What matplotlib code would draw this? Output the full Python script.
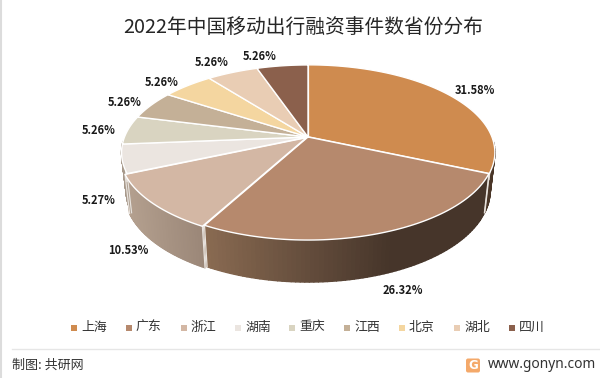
import numpy as np
import matplotlib
matplotlib.use('Agg')
import matplotlib.pyplot as plt
from matplotlib.collections import PolyCollection
from matplotlib.colors import to_rgb
from matplotlib.patches import FancyBboxPatch

plt.rcParams['font.family'] = ['Noto Sans CJK SC', 'DejaVu Sans']

title = '2022年中国移动出行融资事件数省份分布'
provinces = ['上海', '广东', '浙江', '湖南', '重庆', '江西', '北京', '湖北', '四川']
shares = [31.58, 26.32, 10.53, 5.27, 5.26, 5.26, 5.26, 5.26, 5.26]
colors = ['#CF8B4F', '#B6896D', '#D3B7A4', '#EBE5E0', '#D9D4C1', '#C4B097', '#F4D6A0', '#E9CDB4', '#8B604C']

# side colours, left end and right end of each slice
rim_left = ['#4A3628', '#8A6B52', '#B4A08F', '#A89A8C', '#A09A88', '#8A7C68', '#AA9670', '#A0907C', '#604232']
rim_right = ['#4A3628', '#46352A', '#9B8778', '#A89A8C', '#A09A88', '#8A7C68', '#AA9670', '#A0907C', '#604232']
rim_flat = [1, 0.66, 1, 1, 1, 1, 1, 1, 1]

label_x = [475, 403, 128, 99, 99, 125, 162, 212, 260]
label_y = [91, 290, 250, 200, 131, 103, 82, 63, 57]
legend_x = [72, 126.5, 181.5, 236, 290, 345, 400, 455, 509.5]

# pie geometry in pixels, far side of the disc is squeezed
cx, cy = 308, 137
a, b, k = 183.5, 84.8, 0.177


def top_xy(th, dx=0.0, dy=0.0):
    px = np.sin(th) + dx
    py = np.cos(th) + dy
    w = 1 + k * py
    return cx + a * px / w, cy - b * py / w


def apex_xy(dx, dy):
    w = 1 + k * dy
    return cx + a * dx / w, cy - b * dy / w


def low_xy(th, dx=0.0, dy=0.0):
    x, y = top_xy(th, dx, dy)
    depth = 37 - 7.6 * (np.cos(th) + dy)
    return cx + (x - cx) * 0.975, cy + (y - cy) * 0.975 + depth


fig = plt.figure(figsize=(6, 3.78), dpi=100)
ax = fig.add_axes([0, 0, 1, 1])
ax.set_xlim(0, 600)
ax.set_ylim(378, 0)
ax.axis('off')

edges = np.cumsum([0] + shares) / sum(shares) * 2 * np.pi
shifts = [0.003, 0.0, 0.012, 0, 0, 0, 0, 0, 0]

# sides first, the top faces cover whatever is hidden
for i in range(len(shares)):
    mid = (edges[i] + edges[i + 1]) / 2
    dx, dy = shifts[i] * np.sin(mid), shifts[i] * np.cos(mid)
    th = np.linspace(edges[i], edges[i + 1], 80)
    th = th[np.cos(th) < -0.05]  # back of the pie is never seen
    if len(th) < 2:
        continue
    x1, y1 = top_xy(th, dx, dy)
    x2, y2 = low_xy(th, dx, dy)
    span = max(x1.max() - x1.min(), 1)
    polys, cols = [], []
    c_l, c_r = np.array(to_rgb(rim_left[i])), np.array(to_rgb(rim_right[i]))
    for j in range(len(th) - 1):
        polys.append([(x1[j], y1[j]), (x1[j + 1], y1[j + 1]), (x2[j + 1], y2[j + 1]), (x2[j], y2[j])])
        t = min(((x1[j] - x1.min()) / span) / rim_flat[i], 1)
        cols.append(c_l + (c_r - c_l) * t)
    ax.add_collection(PolyCollection(polys, facecolors=cols, edgecolors=cols, linewidths=1.0, zorder=2 + i * 0.01))
    ax.plot([x1[0], x2[0]], [y1[0], y2[0]], color='#E8E2DC', lw=0.9, zorder=3)
    ax.plot([x1[-1], x2[-1]], [y1[-1], y2[-1]], color='#E8E2DC', lw=0.9, zorder=3)

for i in range(len(shares)):
    mid = (edges[i] + edges[i + 1]) / 2
    dx, dy = shifts[i] * np.sin(mid), shifts[i] * np.cos(mid)
    th = np.linspace(edges[i], edges[i + 1], 80)
    x1, y1 = top_xy(th, dx, dy)
    x0, y0 = apex_xy(dx, dy)
    ax.fill(np.r_[x0, x1], np.r_[y0, y1], facecolor=colors[i], edgecolor='white', lw=1.0, joinstyle='round', zorder=4)

for i, s in enumerate(shares):
    ax.text(label_x[i], label_y[i], f'{s:.2f}%', fontsize=8, fontweight='bold', color='#1A1A1A',
            ha='center', va='center', zorder=6)

ax.text(303, 28, title, fontsize=14.2, color='#262626', ha='center', va='center')

for i, name in enumerate(provinces):
    ax.scatter(legend_x[i] + 2, 327.5, marker='s', s=14, color=colors[i], linewidths=0)
    ax.text(legend_x[i] + 9, 327, name, fontsize=9.3, color='#333333', ha='left', va='center')

ax.plot([12, 600], [349, 349], color='#E6E6E6', lw=1)
ax.plot([0.5, 0.5], [0, 378], color='#DCDCDC', lw=1.5)
ax.text(12, 365.5, '制图: 共研网', fontsize=9.4, color='#333333', ha='left', va='center')
ax.text(596, 364.5, 'www.gonyn.com', fontsize=9.9, color='#333333', ha='right', va='center', family='Noto Sans')

logo = FancyBboxPatch((466, 358.5), 14, 14, boxstyle='round,pad=0,rounding_size=2', facecolor='#F4A96A', edgecolor='none')
ax.add_patch(logo)
ax.text(473, 365.5, 'G', fontsize=8.5, fontweight='bold', color='white', ha='center', va='center', family='DejaVu Sans')

fig.savefig('out.png', dpi=100, facecolor='white')
